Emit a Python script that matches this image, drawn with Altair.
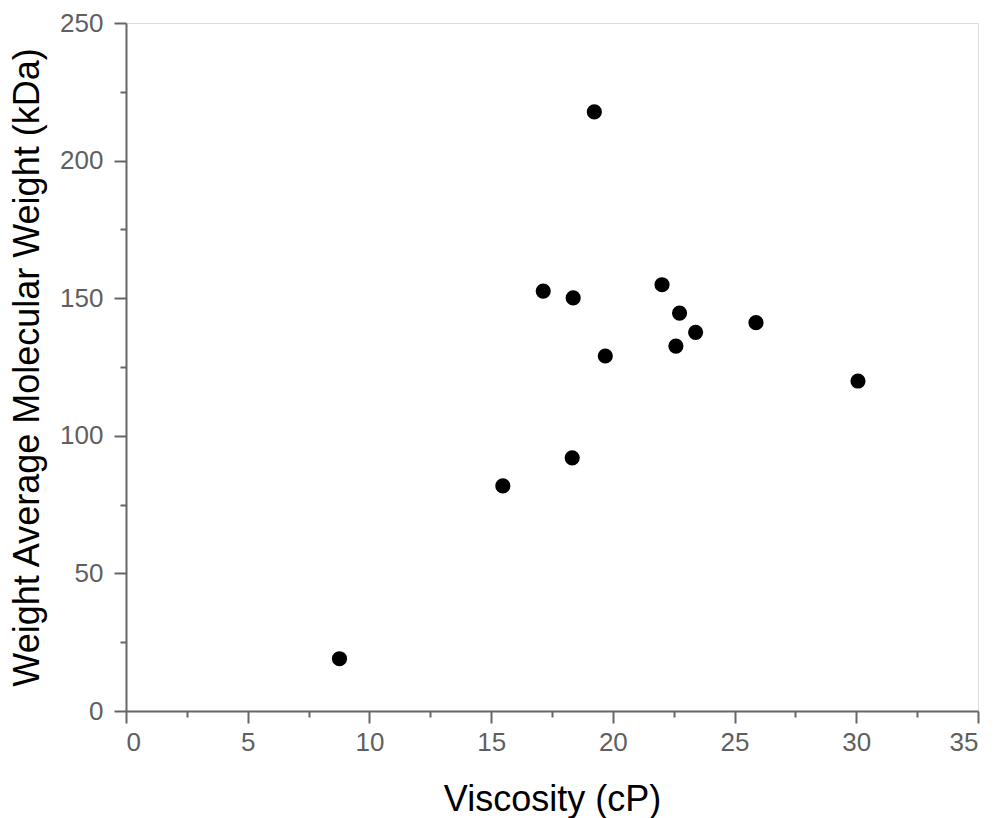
import altair as alt
import pandas as pd

viscosity = [8.77, 15.48, 18.33, 17.14, 18.37, 19.24, 19.69, 22.02, 22.74, 23.40, 22.59, 25.88, 30.07]
mol_weight = [19.0, 81.8, 92.0, 152.6, 150.1, 217.7, 129.0, 154.9, 144.6, 137.6, 132.6, 141.1, 119.9]

x_major = [0, 5, 10, 15, 20, 25, 30, 35]
x_minor = [2.5, 7.5, 12.5, 17.5, 22.5, 27.5, 32.5]
y_major = [0, 50, 100, 150, 200, 250]
y_minor = [25, 75, 125, 175, 225]

df = pd.DataFrame({"v": viscosity, "w": mol_weight})

AX = "#666666"
LAB = "#5f5f5f"
FONT = "Liberation Sans"

xs = alt.Scale(domain=[0, 35], nice=False, zero=False)
ys = alt.Scale(domain=[0, 250], nice=False, zero=False)

points = alt.Chart(df).mark_circle(size=230, color="black", opacity=1).encode(
    x=alt.X("v:Q", scale=xs, axis=alt.Axis(
        values=x_major, orient="bottom", title="Viscosity (cP)", grid=False,
        domainColor=AX, domainWidth=2, tickColor=AX, tickWidth=2, tickSize=12,
        labelColor=LAB, labelFontSize=26, labelFont=FONT, labelPadding=6,
        titleFont=FONT, titleFontSize=36, titleFontWeight="normal", titleColor="black",
        titleY=99, titleBaseline="alphabetic")),
    y=alt.Y("w:Q", scale=ys, axis=alt.Axis(
        values=y_major, orient="left", title="Weight Average Molecular Weight (kDa)", grid=False,
        domainColor=AX, domainWidth=2, tickColor=AX, tickWidth=2, tickSize=12,
        labelColor=LAB, labelFontSize=26, labelFont=FONT, labelPadding=11,
        titleFont=FONT, titleFontSize=36, titleFontWeight="normal", titleColor="black",
        titleX=-88, titleBaseline="alphabetic")),
)

minor = alt.Chart(df).mark_circle(opacity=0).encode(
    x=alt.X("v:Q", scale=xs, axis=alt.Axis(
        values=x_minor, orient="bottom", title=None, labels=False, domain=False, grid=False,
        tickColor=AX, tickWidth=2, tickSize=6)),
    y=alt.Y("w:Q", scale=ys, axis=alt.Axis(
        values=y_minor, orient="left", title=None, labels=False, domain=False, grid=False,
        tickColor=AX, tickWidth=2, tickSize=6)),
)

chart = alt.layer(minor, points).resolve_axis(x="independent", y="independent").properties(
    width=852, height=688,
    autosize=alt.AutoSizeParams(type="none"),
    padding={"left": 126, "top": 23, "right": 17, "bottom": 107},
).configure_view(stroke=AX, strokeWidth=2).configure(background="white")

chart.save("out.html", embed_options={"renderer": "svg", "actions": False})
